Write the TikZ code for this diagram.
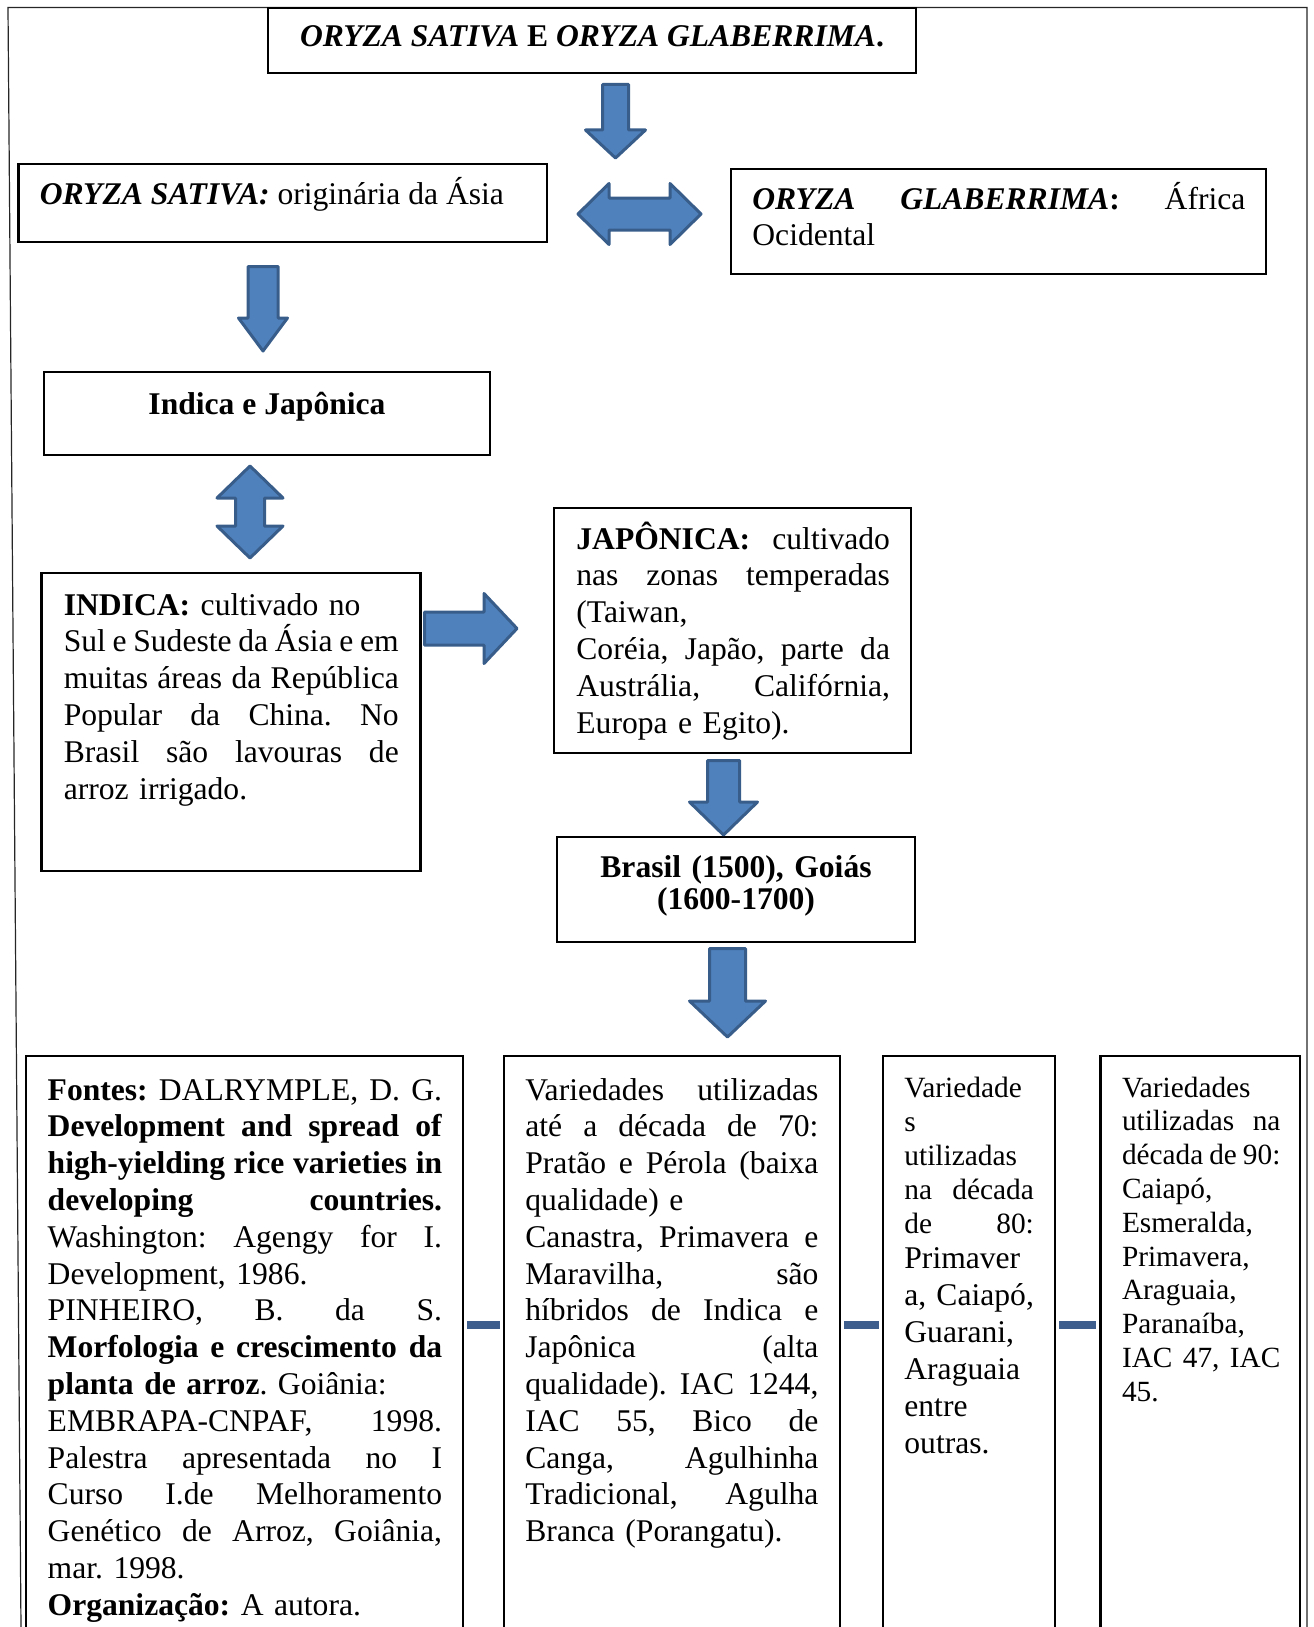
\documentclass[tikz,border=0pt]{standalone}
\usepackage{fontspec}
\setmainfont{Liberation Serif}
\usepackage{tikz}
\usetikzlibrary{fit}
\frenchspacing

\definecolor{arrowfill}{HTML}{4F81BD}
\definecolor{arrowedge}{HTML}{385D8A}
\definecolor{linkblue}{HTML}{3E5F8E}

% one justified line of a box
\newcommand{\jl}[1]{\leavevmode\hbox to\linewidth{\spaceskip=0.25em plus 1fil minus 0.08em\xspaceskip=\spaceskip\relax #1}}
% block arrow pointing down: x, top, head start, tip, shaft half, head half
\newcommand{\downblk}[6]{\draw[blk] (#1-#5,#2) -- (#1+#5,#2) -- (#1+#5,#3) -- (#1+#6,#3) -- (#1,#4) -- (#1-#6,#3) -- (#1-#5,#3) -- cycle;}

\tikzset{
  box/.style={draw,line width=1.1pt,inner sep=0pt},
  txt/.style={anchor=base west,inner sep=0pt,align=left,font=\fontsize{15.8}{18.4}\selectfont},
  smalltxt/.style={txt,font=\fontsize{14.7}{17}\selectfont},
  blk/.style={fill=arrowfill,draw=arrowedge,line width=1.5pt,line join=round},
  link/.style={draw=linkblue,line width=4pt,shorten <=1.5pt,shorten >=1.5pt},
  frame/.style={draw=black!85,line width=0.6pt}
}

\begin{document}
\begin{tikzpicture}[x=0.5pt,y=-0.5pt]
  \useasboundingbox (0,0) rectangle (1313,1627);
  \clip (0,0) rectangle (1313,1627);

  \draw[frame] (21,1627) -- (8,7.5) -- (1307,7.5) -- (1307,1627);

  \node[box,fit={(268,8) (916,73)}](title){};
  \node[txt,anchor=base] at(592,47)(titletxt){\textbf{\textit{ORYZA SATIVA} E \textit{ORYZA GLABERRIMA}.}};

  \node[box,fit={(18.5,164) (547,242)}](sativa){};
  \node[txt] at(39.5,204)(sativatxt){\textbf{\textit{ORYZA SATIVA:}} originária da Ásia};

  \node[box,fit={(731,169) (1266,274)}](glab){};
  \node[txt,text width=246.5pt] at(752,209)(glabtxt){\jl{\textbf{\textit{ORYZA GLABERRIMA}:} África}\\
    Ocidental};

  \node[box,fit={(43.6,372) (490,455)}](indjap){};
  \node[txt,anchor=base] at(267,414)(indjaptxt){\textbf{Indica e Japônica}};

  \node[box,fit={(41.5,573) (420.5,871)}](indica){};
  \node[txt,text width=167.5pt] at(63.4,615)(indicatxt){\textbf{INDICA:} cultivado no\\
    \jl{Sul e Sudeste da Ásia e em}\\
    \jl{muitas áreas da República}\\
    \jl{Popular da China. No}\\
    \jl{Brasil são lavouras de}\\
    arroz irrigado.};

  \node[box,fit={(554,508) (911,753)}](japonica){};
  \node[txt,text width=156.8pt] at(576,549)(japonicatxt){\jl{\textbf{JAPÔNICA:} cultivado}\\
    \jl{nas zonas temperadas}\\
    (Taiwan,\\
    \jl{Coréia, Japão, parte da}\\
    \jl{Austrália, Califórnia,}\\
    Europa e Egito).};

  \node[box,fit={(557,837) (915,942)}](brasil){};
  \node[txt,anchor=base,align=center,text width=172pt,font=\bfseries\fontsize{15.8}{16}\selectfont] at(736,877)(brasiltxt){Brasil (1500), Goiás\\
    (1600-1700)};

  \node[box,fit={(26,1056) (463,1700)}](fontes){};
  \node[txt,text width=197.2pt] at(47.3,1100)(fontestxt){\jl{\textbf{Fontes:} DALRYMPLE, D. G.}\\
    \jl{\textbf{Development and spread of}}\\
    \jl{\textbf{high-yielding rice varieties in}}\\
    \jl{\textbf{developing countries.}}\\
    \jl{Washington: Agengy for I.}\\
    Development, 1986.\\
    \jl{PINHEIRO, B. da S.}\\
    \jl{\textbf{Morfologia e crescimento da}}\\
    \textbf{planta de arroz}. Goiânia:\\
    \jl{EMBRAPA-CNPAF, 1998.}\\
    \jl{Palestra apresentada no I}\\
    \jl{Curso I.de Melhoramento}\\
    \jl{Genético de Arroz, Goiânia,}\\
    mar. 1998.\\
    \textbf{Organização:} A autora.};

  \node[box,fit={(504,1056) (840,1700)}](dec70){};
  \node[txt,text width=146.5pt] at(525,1100)(dec70txt){\jl{Variedades utilizadas}\\
    \jl{até a década de 70:}\\
    \jl{Pratão e Pérola (baixa}\\
    qualidade) e\\
    \jl{Canastra, Primavera e}\\
    \jl{Maravilha, são}\\
    \jl{híbridos de Indica e}\\
    \jl{Japônica (alta}\\
    \jl{qualidade). IAC 1244,}\\
    \jl{IAC 55, Bico de}\\
    \jl{Canga, Agulhinha}\\
    \jl{Tradicional, Agulha}\\
    Branca (Porangatu).};

  \node[box,fit={(883,1056) (1055,1700)}](dec80){};
  \node[smalltxt,text width=64.75pt] at(904,1097)(dec80txt){Variedade\\
    s\\
    utilizadas\\
    \jl{na década}\\
    \jl{de 80:}};
  \node[txt,text width=64.75pt,font=\fontsize{15.8}{18.5}\selectfont] at(904,1268)(dec80list){Primaver\\
    \jl{a, Caiapó,}\\
    Guarani,\\
    Araguaia\\
    entre\\
    outras.};

  \node[box,fit={(1100.5,1056) (1300,1700)}](dec90){};
  \node[smalltxt,text width=79.2pt,font=\fontsize{14.65}{16.9}\selectfont] at(1121.6,1097)(dec90txt){Variedades\\
    \jl{utilizadas na}\\
    \jl{década de 90:}\\
    Caiapó,\\
    Esmeralda,\\
    Primavera,\\
    Araguaia,\\
    Paranaíba,\\
    \jl{IAC 47, IAC}\\
    45.};

  % block arrows
  \downblk{615.5}{84.5}{130}{158}{13}{30}
  \downblk{263}{266.5}{318}{351}{15}{24.5}
  \downblk{723.5}{760.5}{802}{835}{16}{34}
  \downblk{727.5}{948.5}{1001}{1037}{18}{38}
  \draw[blk] (578,214) -- (609,183.5) -- (609,198) -- (670,198) -- (670,183.5) -- (701,214)
    -- (670,244.5) -- (670,230) -- (609,230) -- (609,244.5) -- cycle;
  \draw[blk] (250,466) -- (283,498) -- (264.5,498) -- (264.5,526) -- (283,526) -- (250,558)
    -- (217,526) -- (235.5,526) -- (235.5,498) -- (217,498) -- cycle;
  \draw[blk] (424.5,612) -- (484,612) -- (484,593.5) -- (517,628.5) -- (484,663.5)
    -- (484,645) -- (424.5,645) -- cycle;

  \coordinate (linkrow) at (0,1325);
  \draw[link] (fontes.east |- linkrow) -- (dec70.west |- linkrow);
  \draw[link] (dec70.east |- linkrow) -- (dec80.west |- linkrow);
  \draw[link] (dec80.east |- linkrow) -- (dec90.west |- linkrow);
\end{tikzpicture}
\end{document}
